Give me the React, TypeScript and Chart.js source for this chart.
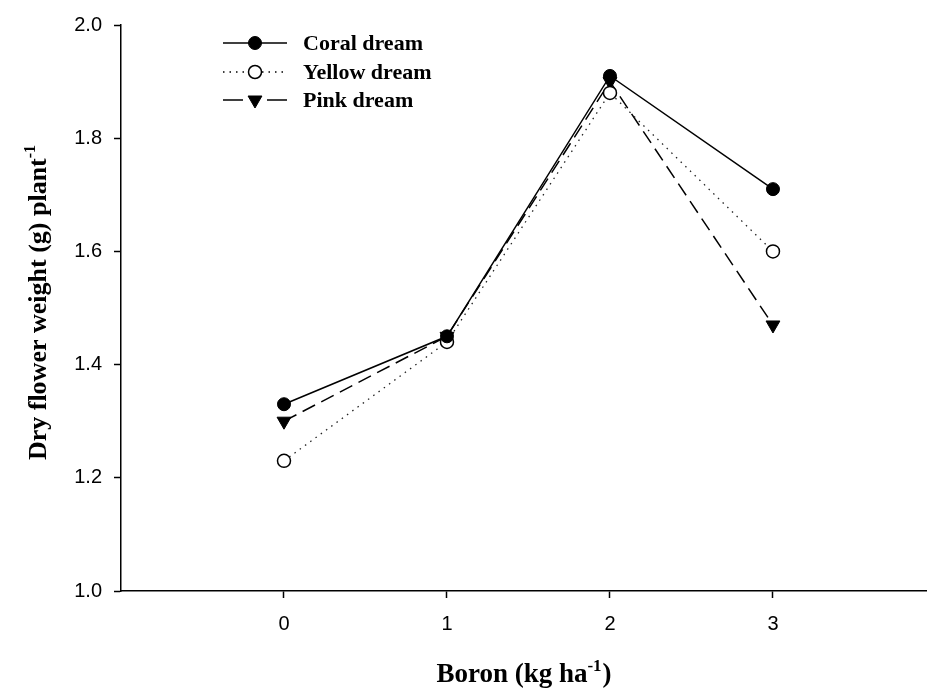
import React, { useEffect, useRef } from "react";
import { Chart, registerables } from "chart.js";

Chart.register(...registerables);

const boronLevels = [0, 1, 2, 3];
const xTickValues = [0, 1, 2, 3];
const yTickValues = [1.0, 1.2, 1.4, 1.6, 1.8, 2.0];
const coralDream = [1.33, 1.45, 1.91, 1.71];
const yellowDream = [1.23, 1.44, 1.88, 1.6];
const pinkDream = [1.3, 1.45, 1.9, 1.47];
const seriesNames = ["Coral dream", "Yellow dream", "Pink dream"];
const xTitleParts = ["Boron (kg ha", "-1", ")"];
const yTitleParts = ["Dry flower weight (g) plant", "-1", ""];

const SERIF = '"Liberation Serif", "Times New Roman", serif';
const SANS = '"Liberation Sans", Arial, sans-serif';

function drawSupText(ctx: CanvasRenderingContext2D, parts: string[], size: number, cx: number, baseY: number) {
  const mainFont = `bold ${size}px ${SERIF}`;
  const supFont = `bold ${Math.round(size * 0.62)}px ${SERIF}`;
  ctx.font = mainFont;
  const w0 = ctx.measureText(parts[0]).width;
  const w2 = ctx.measureText(parts[2]).width;
  ctx.font = supFont;
  const w1 = ctx.measureText(parts[1]).width;
  const total = w0 + w1 + w2 + 1;
  let x = cx - total / 2;
  ctx.textAlign = "left";
  ctx.textBaseline = "alphabetic";
  ctx.fillStyle = "#000";
  ctx.font = mainFont;
  ctx.fillText(parts[0], x, baseY);
  x += w0;
  ctx.font = supFont;
  ctx.fillText(parts[1], x, baseY - size * 0.42);
  x += w1 + 1;
  ctx.font = mainFont;
  ctx.fillText(parts[2], x, baseY);
}

const overlayPlugin = {
  id: "overlayTitlesLegend",
  afterDraw(chart: any) {
    const ctx: CanvasRenderingContext2D = chart.ctx;
    const area = chart.chartArea;
    ctx.save();
    // x title
    drawSupText(ctx, xTitleParts, 27, (area.left + area.right) / 2, 682);
    // y title
    ctx.save();
    ctx.translate(46, (area.top + area.bottom) / 2 - 6);
    ctx.rotate(-Math.PI / 2);
    drawSupText(ctx, yTitleParts, 26, 0, 0);
    ctx.restore();

    // legend
    const rows = [43, 72, 100];
    const x0 = 223, x1 = 287, xm = 255, xt = 303;
    chart.data.datasets.forEach((ds: any, i: number) => {
      const y = rows[i];
      ctx.save();
      ctx.strokeStyle = "#000";
      ctx.lineWidth = ds.borderWidth;
      if (i === 2) {
        ctx.setLineDash([]);
        ctx.beginPath();
        ctx.moveTo(x0, y);
        ctx.lineTo(x0 + 20, y);
        ctx.moveTo(x1 - 20, y);
        ctx.lineTo(x1, y);
        ctx.stroke();
      } else {
        ctx.setLineDash(ds.borderDash || []);
        ctx.beginPath();
        ctx.moveTo(x0, y);
        ctx.lineTo(x1, y);
        ctx.stroke();
      }
      ctx.setLineDash([]);
      ctx.fillStyle = ds.pointBackgroundColor;
      ctx.lineWidth = ds.pointBorderWidth;
      ctx.beginPath();
      if (ds.pointStyle === "triangle") {
        const r = ds.pointRadius;
        ctx.moveTo(xm, y + r);
        ctx.lineTo(xm + r * Math.sin((2 * Math.PI) / 3), y - r * 0.5);
        ctx.lineTo(xm - r * Math.sin((2 * Math.PI) / 3), y - r * 0.5);
        ctx.closePath();
      } else {
        ctx.arc(xm, y, ds.pointRadius, 0, Math.PI * 2);
      }
      ctx.fill();
      ctx.stroke();
      ctx.fillStyle = "#000";
      ctx.font = `bold 22px ${SERIF}`;
      ctx.textAlign = "left";
      ctx.textBaseline = "middle";
      ctx.fillText(seriesNames[i], xt, y + 1);
      ctx.restore();
    });
    ctx.restore();
  },
};

export default function App() {
  const canvasRef = useRef<HTMLCanvasElement | null>(null);

  useEffect(() => {
    if (!canvasRef.current) return;
    const toPoints = (vals: number[]) => boronLevels.map((x, i) => ({ x, y: vals[i] }));
    const chart = new Chart(canvasRef.current, {
      type: "line",
      data: {
        datasets: [
          {
            label: seriesNames[0],
            data: toPoints(coralDream),
            borderColor: "#000",
            borderWidth: 1.5,
            pointStyle: "circle",
            pointRadius: 6.5,
            pointBackgroundColor: "#000",
            pointBorderColor: "#000",
            pointBorderWidth: 1,
            tension: 0,
            clip: false,
          },
          {
            label: seriesNames[1],
            data: toPoints(yellowDream),
            borderColor: "#222",
            borderWidth: 1.3,
            borderDash: [1.5, 5],
            pointStyle: "circle",
            pointRadius: 6.5,
            pointBackgroundColor: "#fff",
            pointBorderColor: "#000",
            pointBorderWidth: 1.5,
            tension: 0,
            clip: false,
          },
          {
            label: seriesNames[2],
            data: toPoints(pinkDream),
            borderColor: "#000",
            borderWidth: 1.5,
            borderDash: [14, 7],
            pointStyle: "triangle",
            pointRotation: 180,
            pointRadius: 8,
            pointBackgroundColor: "#000",
            pointBorderColor: "#000",
            pointBorderWidth: 1,
            tension: 0,
            clip: false,
          },
        ] as any,
      },
      options: {
        animation: false,
        responsive: false,
        devicePixelRatio: 1,
        layout: { autoPadding: false, padding: { top: 25, right: 0, bottom: 0, left: 0 } },
        plugins: { legend: { display: false }, tooltip: { enabled: false } },
        events: [],
        scales: {
          x: {
            type: "linear",
            min: -1,
            max: 3.945,
            afterBuildTicks: (s: any) => {
              s.ticks = xTickValues.map((v) => ({ value: v }));
            },
            afterFit: (s: any) => {
              s.height = 97;
              s.paddingRight = 0;
              s.paddingLeft = 0;
            },
            ticks: {
              color: "#000",
              font: { family: SANS, size: 20 },
              padding: 14,
              maxRotation: 0,
              autoSkip: false,
              callback: (v: any) => String(v),
            },
            grid: {
              drawOnChartArea: false,
              drawTicks: true,
              tickLength: 7,
              tickColor: "#000",
              tickWidth: 1.5,
            },
            border: { display: true, color: "#000", width: 1.5 },
          },
          y: {
            type: "linear",
            min: 1,
            max: 2,
            afterBuildTicks: (s: any) => {
              s.ticks = yTickValues.map((v) => ({ value: v }));
            },
            afterFit: (s: any) => {
              s.width = 121;
            },
            ticks: {
              color: "#000",
              font: { family: SANS, size: 20 },
              padding: 12,
              callback: (v: any) => Number(v).toFixed(1),
            },
            grid: {
              drawOnChartArea: false,
              drawTicks: true,
              tickLength: 7,
              tickColor: "#000",
              tickWidth: 1.5,
            },
            border: { display: true, color: "#000", width: 1.5 },
          },
        },
      } as any,
      plugins: [overlayPlugin],
    });
    return () => chart.destroy();
  }, []);

  return (
    <div style={{ position: "absolute", left: 0, top: 0, width: 927, height: 688, background: "#fff" }}>
      <canvas ref={canvasRef} width={927} height={688} style={{ display: "block", width: 927, height: 688 }} />
    </div>
  );
}
